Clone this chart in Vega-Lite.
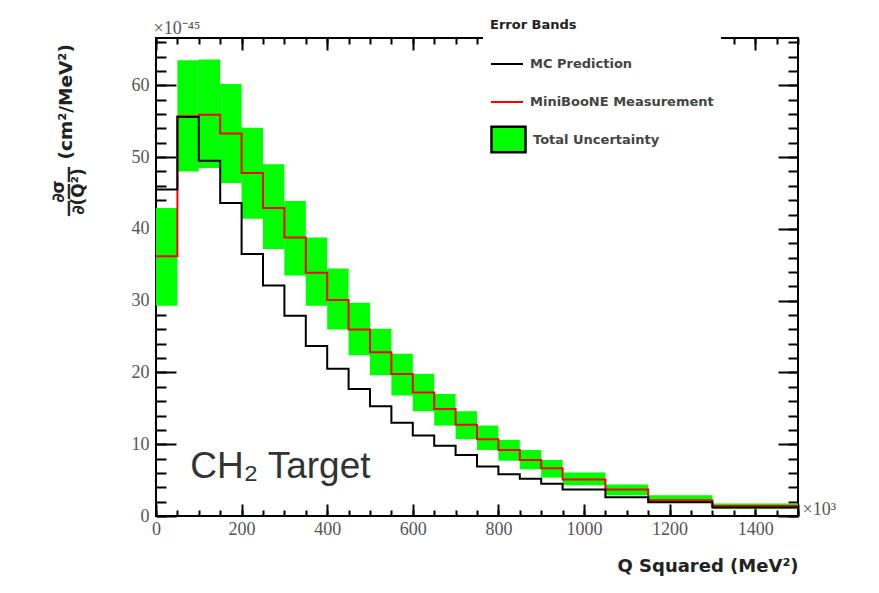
{
  "$schema": "https://vega.github.io/schema/vega-lite/v6.json",
  "width": 642,
  "height": 478,
  "autosize": "none",
  "padding": {"left": 156, "top": 38, "right": 81, "bottom": 77},
  "background": "white",
  "config": {
    "view": {"stroke": "black", "strokeWidth": 2},
    "axis": {"domain": false, "tickColor": "black", "tickWidth": 2, "grid": false, "labelFont": "Liberation Serif", "labelFontSize": 18, "labelColor": "#555", "zindex": 1, "labelFlush": false, "labelOverlap": false, "labelBound": false}
  },
  "datasets": {
    "bins": [
      {"lo": 0, "hi": 50, "mc": 45.5, "meas": 36.2, "elo": 29.3, "ehi": 42.9},
      {"lo": 50, "hi": 100, "mc": 55.6, "meas": 55.7, "elo": 48.0, "ehi": 63.5},
      {"lo": 100, "hi": 150, "mc": 49.5, "meas": 55.9, "elo": 48.5, "ehi": 63.6},
      {"lo": 150, "hi": 200, "mc": 43.6, "meas": 53.3, "elo": 46.4, "ehi": 60.2},
      {"lo": 200, "hi": 250, "mc": 36.5, "meas": 47.8, "elo": 41.4, "ehi": 54.1},
      {"lo": 250, "hi": 300, "mc": 32.1, "meas": 42.9, "elo": 37.2, "ehi": 49.0},
      {"lo": 300, "hi": 350, "mc": 27.9, "meas": 38.8, "elo": 33.5, "ehi": 43.9},
      {"lo": 350, "hi": 400, "mc": 23.7, "meas": 33.9, "elo": 29.3, "ehi": 38.8},
      {"lo": 400, "hi": 450, "mc": 20.5, "meas": 30.1, "elo": 26.0, "ehi": 34.5},
      {"lo": 450, "hi": 500, "mc": 17.7, "meas": 26.0, "elo": 22.4, "ehi": 29.7},
      {"lo": 500, "hi": 550, "mc": 15.3, "meas": 22.8, "elo": 19.6, "ehi": 26.1},
      {"lo": 550, "hi": 600, "mc": 13.0, "meas": 19.8, "elo": 16.8, "ehi": 22.6},
      {"lo": 600, "hi": 650, "mc": 11.2, "meas": 17.2, "elo": 14.6, "ehi": 19.8},
      {"lo": 650, "hi": 700, "mc": 9.8, "meas": 14.9, "elo": 12.6, "ehi": 17.0},
      {"lo": 700, "hi": 750, "mc": 8.5, "meas": 12.7, "elo": 10.7, "ehi": 14.6},
      {"lo": 750, "hi": 800, "mc": 6.9, "meas": 10.7, "elo": 9.2, "ehi": 12.6},
      {"lo": 800, "hi": 850, "mc": 5.8, "meas": 9.2, "elo": 7.7, "ehi": 10.6},
      {"lo": 850, "hi": 900, "mc": 5.2, "meas": 7.8, "elo": 6.5, "ehi": 9.2},
      {"lo": 900, "hi": 950, "mc": 4.5, "meas": 6.65, "elo": 5.35, "ehi": 7.8},
      {"lo": 950, "hi": 1050, "mc": 3.7, "meas": 5.1, "elo": 4.3, "ehi": 6.05},
      {"lo": 1050, "hi": 1150, "mc": 2.6, "meas": 3.7, "elo": 2.9, "ehi": 4.4},
      {"lo": 1150, "hi": 1300, "mc": 1.9, "meas": 2.2, "elo": 1.8, "ehi": 2.9},
      {"lo": 1300, "hi": 1500, "mc": 1.2, "meas": 1.4, "elo": 1.0, "ehi": 1.75}
    ],
    "notes": [
      {"q2": 80, "v": 6.8, "label": "CH₂ Target"}
    ]
  },
  "layer": [
    {
      "data": {"name": "bins"},
      "mark": {"type": "rect", "stroke": null},
      "encoding": {
        "x": {"field": "lo", "type": "quantitative", "scale": {"domain": [0, 1500], "nice": false, "zero": false},
          "axis": {"orient": "bottom", "offset": -12, "tickSize": 12,
            "values": [0,200,400,600,800,1000,1200,1400,1500],
            "format": "d",
            "labelExpr": "datum.value === 1500 ? '×10³' : datum.label",
            "labelPadding": {"condition": {"test": "datum.value === 1500", "value": -2}, "value": 4},
            "labelAlign": {"condition": {"test": "datum.value === 1500", "value": "left"}, "value": "center"},
            "labelBaseline": {"condition": {"test": "datum.value === 1500", "value": "alphabetic"}, "value": "top"},
            "labelOffset": {"condition": {"test": "datum.value === 1500", "value": 4}, "value": 0},
            "title": "Q Squared (MeV²)", "titleFont": "DejaVu Sans", "titleFontWeight": "bold", "titleFontSize": 18, "titleColor": "#222",
            "titleAlign": "right", "titleAnchor": "end", "titleBaseline": "alphabetic", "titleX": 642, "titleY": 67}},
        "x2": {"field": "hi"},
        "y": {"field": "elo", "type": "quantitative", "scale": {"domain": [0, 66.6], "nice": false, "zero": false},
          "axis": {"orient": "left", "offset": -20, "tickSize": 20,
            "values": [0,10,20,30,40,50,60],
            "labelPadding": 7,
            "title": "(cm²/MeV²)",
            "titleAngle": 270, "titleAlign": "left", "titleBaseline": "middle", "titleX": -111, "titleY": 121,
            "titleFont": "DejaVu Sans", "titleFontWeight": "bold", "titleFontSize": 18.5, "titleColor": "#222"}},
        "y2": {"field": "ehi"},
        "fill": {"datum": "Total Uncertainty", "type": "nominal",
          "scale": {"domain": ["Total Uncertainty"], "range": ["#00ff00"]},
          "legend": {"orient": "none", "legendX": 334, "legendY": 83, "padding": 0, "zindex": 3, "title": null,
            "labelFont": "DejaVu Sans", "labelFontWeight": "bold", "labelFontSize": 13, "labelColor": "#444", "labelOffset": 6, "labelLimit": 400,
            "symbolType": "M-1,-0.75H1V0.75H-1Z", "symbolSize": 1156, "symbolStrokeColor": "black", "symbolStrokeWidth": 2.5, "symbolOpacity": 1}}
      }
    },
    {
      "data": {"name": "bins"},
      "transform": [{"fold": ["lo", "hi"], "as": ["edge", "q2"]}],
      "mark": {"type": "line", "strokeWidth": 2},
      "encoding": {
        "x": {"field": "q2", "type": "quantitative",
          "axis": {"orient": "top", "offset": -12, "tickSize": 12, "labels": false,
            "values": [0,200,400,600,800,1000,1200,1400],
            "title": "×10⁻⁴⁵", "titleFont": "Liberation Serif", "titleFontSize": 18, "titleFontWeight": "normal", "titleColor": "#555",
            "titleAlign": "left", "titleAnchor": "start", "titleBaseline": "alphabetic", "titleX": -3, "titleY": -17}},
        "y": {"field": "meas", "type": "quantitative",
          "axis": {"orient": "right", "offset": -20, "tickSize": 20, "title": null, "labels": false,
            "values": [0,10,20,30,40,50,60]}},
        "order": [{"field": "q2", "type": "quantitative"}, {"field": "lo", "type": "quantitative"}],
        "stroke": {"datum": "MiniBooNE Measurement", "type": "nominal",
          "scale": {"domain": ["MC Prediction", "MiniBooNE Measurement"], "range": ["black", "#ff0000"]},
          "legend": {"orient": "none", "legendX": 327, "legendY": -26, "fillColor": "white", "padding": 7, "zindex": 2,
            "title": "Error Bands", "titleFont": "DejaVu Sans", "titleFontWeight": "bold", "titleFontSize": 13, "titleColor": "#222", "titlePadding": 15,
            "labelFont": "DejaVu Sans", "labelFontWeight": "bold", "labelFontSize": 13, "labelColor": "#444", "labelOffset": 6, "labelLimit": 400,
            "symbolType": "stroke", "symbolSize": 1024, "symbolStrokeWidth": 2, "rowPadding": 14}}
      }
    },
    {
      "data": {"name": "bins"},
      "transform": [{"fold": ["lo", "hi"], "as": ["edge", "q2"]}],
      "mark": {"type": "line", "strokeWidth": 2},
      "encoding": {
        "x": {"field": "q2", "type": "quantitative",
          "axis": {"orient": "bottom", "offset": -6, "tickSize": 6, "labels": false, "title": null,
            "values": [0,50,100,150,200,250,300,350,400,450,500,550,600,650,700,750,800,850,900,950,1000,1050,1100,1150,1200,1250,1300,1350,1400,1450,1500]}},
        "y": {"field": "mc", "type": "quantitative",
          "axis": {"orient": "left", "offset": -10, "tickSize": 10, "labels": false,
            "values": [0,2,4,6,8,10,12,14,16,18,20,22,24,26,28,30,32,34,36,38,40,42,44,46,48,50,52,54,56,58,60,62,64,66],
            "title": ["∂σ", "———", "∂(Q²)"],
            "titleAngle": 270, "titleAlign": "center", "titleBaseline": "top", "titleX": -116, "titleY": 153, "titleLineHeight": 10,
            "titleFont": "DejaVu Sans", "titleFontWeight": "bold", "titleFontSize": 17, "titleColor": "#222"}},
        "order": [{"field": "q2", "type": "quantitative"}, {"field": "lo", "type": "quantitative"}],
        "stroke": {"datum": "MC Prediction", "type": "nominal"}
      }
    },
    {
      "data": {"name": "notes"},
      "mark": {"type": "text", "align": "left", "baseline": "middle", "font": "Liberation Sans", "fontSize": 37, "color": "#333"},
      "encoding": {
        "x": {"field": "q2", "type": "quantitative",
          "axis": {"orient": "top", "offset": -6, "tickSize": 6, "labels": false, "title": null,
            "values": [0,50,100,150,200,250,300,350,400,450,500,550,600,650,700,750,800,850,900,950,1000,1050,1100,1150,1200,1250,1300,1350,1400,1450,1500]}},
        "y": {"field": "v", "type": "quantitative",
          "axis": {"orient": "right", "offset": -10, "tickSize": 10, "labels": false, "title": null,
            "values": [0,2,4,6,8,10,12,14,16,18,20,22,24,26,28,30,32,34,36,38,40,42,44,46,48,50,52,54,56,58,60,62,64,66]}},
        "text": {"field": "label"}
      }
    }
  ],
  "resolve": {"axis": {"x": "independent", "y": "independent"}}
}
